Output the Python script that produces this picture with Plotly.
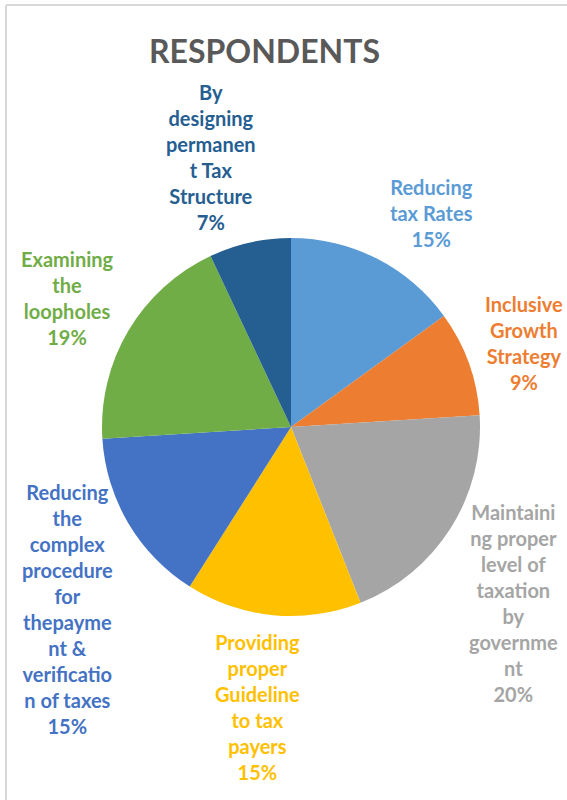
import plotly.graph_objects as go

# Survey responses: measures suggested by respondents
categories = [
    "Reducing tax Rates",
    "Inclusive Growth Strategy",
    "Maintaining proper level of taxation by government",
    "Providing proper Guideline to tax payers",
    "Reducing the complex procedure for thepayment & verification of taxes",
    "Examining the loopholes",
    "By designing permanent Tax Structure",
]
values = [15, 9, 20, 15, 15, 19, 7]
colors = ["#5B9BD5", "#ED7D31", "#A5A5A5", "#FFC000", "#4472C4", "#70AD47", "#255E91"]

# Wrapped label lines (as they break in the narrow label boxes)
label_lines = [
    ["Reducing", "tax Rates"],
    ["Inclusive", "Growth", "Strategy"],
    ["Maintaini", "ng proper", "level of", "taxation", "by", "governme", "nt"],
    ["Providing", "proper", "Guideline", "to tax", "payers"],
    ["Reducing", "the", "complex", "procedure", "for", "thepayme", "nt &", "verificatio", "n of taxes"],
    ["Examining", "the", "loopholes"],
    ["By", "designing", "permanen", "t Tax", "Structure"],
]
# Label centres in pixels (x, y from top)
label_pos = [(431, 213), (524, 343), (513, 603), (257, 707), (67, 609), (67, 298), (211, 157)]

W, H = 567, 800
cx, cy, r = 291, 427, 189

fig = go.Figure(go.Pie(
    labels=categories,
    values=values,
    sort=False,
    direction="clockwise",
    rotation=0,
    marker=dict(colors=colors, line=dict(width=0)),
    textinfo="none",
    hoverinfo="label+percent",
    showlegend=False,
    domain=dict(x=[(cx - r) / W, (cx + r) / W], y=[1 - (cy + r) / H, 1 - (cy - r) / H]),
))

total = sum(values)
for lines, v, col, (px, py) in zip(label_lines, values, colors, label_pos):
    rows = lines + [f"{round(100 * v / total)}%"]
    text = "<br>".join(f"<b>{row}</b>" for row in rows)
    fig.add_annotation(
        x=px / W, y=1 - py / H, xref="paper", yref="paper",
        text=text, showarrow=False, align="center",
        xanchor="center", yanchor="middle",
        font=dict(family="Lato", size=20, color=col),
    )

fig.add_annotation(
    x=264 / W, y=1 - 50 / H, xref="paper", yref="paper",
    text="<b>RESPONDENTS</b>", showarrow=False,
    xanchor="center", yanchor="middle",
    font=dict(family="Lato", size=32, color="#595959"),
)

# Light frame lines along the top and left edges
fig.add_shape(type="line", xref="paper", yref="paper",
              x0=6 / W, x1=1, y0=1 - 5 / H, y1=1 - 5 / H,
              line=dict(color="#D9D9D9", width=2))
fig.add_shape(type="line", xref="paper", yref="paper",
              x0=6 / W, x1=6 / W, y0=0, y1=1 - 5 / H,
              line=dict(color="#D9D9D9", width=2))

fig.update_layout(
    width=W, height=H,
    margin=dict(l=0, r=0, t=0, b=0),
    paper_bgcolor="white",
    plot_bgcolor="white",
    font=dict(family="Lato"),
)

fig.write_html("out.html")
